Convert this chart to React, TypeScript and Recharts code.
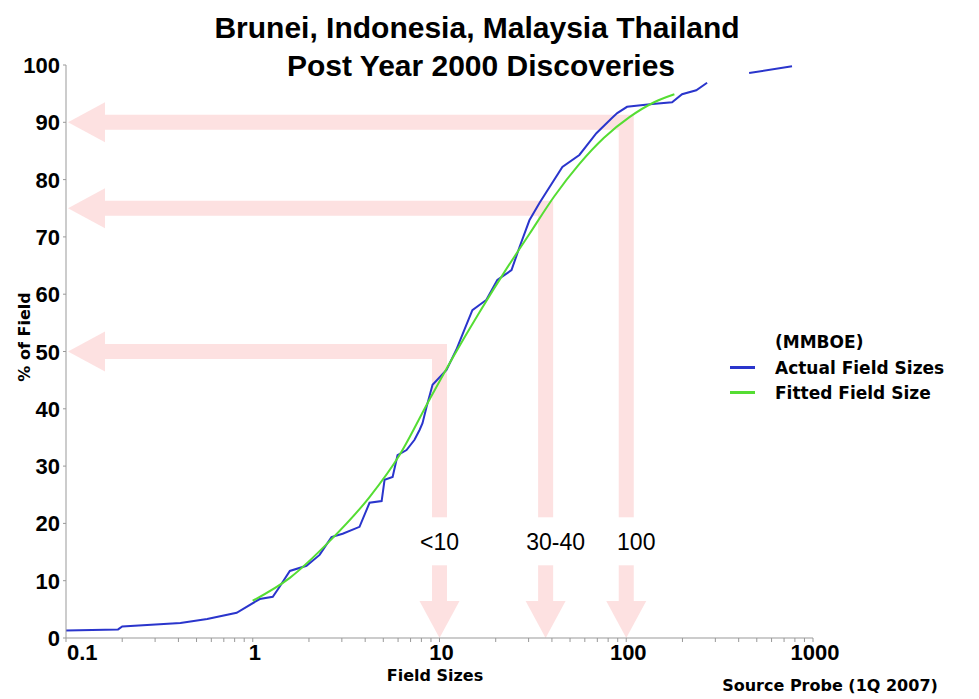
import { LineChart, Line, XAxis, YAxis, ReferenceArea, ReferenceDot, Legend } from 'recharts'

// cumulative share of fields (%) vs field size (MMBOE)
const actualX = [0.1, 0.19, 0.2, 0.41, 0.57, 0.82, 1.09, 1.28, 1.39, 1.58, 1.94, 2.28, 2.64, 3.03, 3.73, 4.22, 4.9, 5.08, 5.61, 5.96, 6.66, 7.35, 7.82, 8.11, 8.52, 9.18, 10.9, 12.3, 13.6, 15.0, 17.8, 20.4, 24.3, 26.8, 30.3, 34.3, 37.3, 45.5, 56.1, 69.2, 84.1, 89.5, 101, 138, 176, 199, 237, 271, 350, 455, 772]
const actualY = [1.3, 1.5, 2.0, 2.6, 3.3, 4.4, 6.8, 7.2, 8.9, 11.7, 12.6, 14.5, 17.6, 18.2, 19.4, 23.6, 23.9, 27.6, 28.1, 31.9, 32.8, 34.6, 36.3, 37.5, 40.3, 44.2, 46.8, 50.3, 53.8, 57.2, 59.0, 62.5, 64.2, 68.2, 72.9, 75.9, 77.8, 82.2, 84.3, 88.1, 90.8, 91.6, 92.7, 93.2, 93.5, 94.9, 95.6, 96.9, null, 98.6, 99.8]

const fittedX = [1, 1.58, 2.58, 4.22, 6.1, 8.8, 12, 16.4, 22.3, 30.3, 41.2, 56, 76, 104, 141, 181]
const fittedY = [6.5, 10.5, 16.9, 24.6, 31.9, 41.5, 49.4, 56.9, 63.9, 70.5, 77.1, 82.7, 87.3, 90.9, 93.5, 94.9]

const xTicks = [0.1, 0.2, 0.3, 0.4, 0.5, 0.6, 0.7, 0.8, 0.9, 1, 2, 3, 4, 5, 6, 7, 8, 9, 10, 20, 30, 40, 50, 60, 70, 80, 90, 100, 200, 300, 400, 500, 600, 700, 800, 900, 1000]
const xLabelValues = [0.1, 1, 10, 100, 1000]
const xLabels = ['0.1', '1', '10', '100', '1000']
const yTicks = [0, 10, 20, 30, 40, 50, 60, 70, 80, 90, 100]

const arrowSizes = [10, 37, 100]
const arrowShares = [50, 75, 90]
const arrowLabels = ['<10', '30-40', '100']
const labelLevel = 16.7

const titleLines = ['Brunei, Indonesia, Malaysia Thailand', 'Post Year 2000 Discoveries']

const actualData = actualX.map((x, i) => ({ x, y: actualY[i] }))
const fittedData = fittedX.map((x, i) => ({ x, y: fittedY[i] }))

const ARIAL = 'Liberation Sans, Arial, sans-serif'
const VERDANA = 'DejaVu Sans, Verdana, sans-serif'

const SHAFT = 15
const HEAD = 40
const HEAD_LEN = 37

// L-shaped arrow: left along the top edge, down along the right edge
function LArrow(props: any) {
  const { x, y, width, height } = props
  const left = x + 2
  const cx = x + width
  const cy = y
  const bottom = y + height
  const s = SHAFT / 2
  const h = HEAD / 2
  const pts = [
    [left, cy], [left + HEAD_LEN, cy - h], [left + HEAD_LEN, cy - s], [cx + s, cy - s],
    [cx + s, bottom - HEAD_LEN], [cx + h, bottom - HEAD_LEN], [cx, bottom], [cx - h, bottom - HEAD_LEN],
    [cx - s, bottom - HEAD_LEN], [cx - s, cy + s], [left + HEAD_LEN, cy + s], [left + HEAD_LEN, cy + h],
  ]
  return <polygon points={pts.map(p => p.join(',')).join(' ')} fill="#f8a8a8" fillOpacity={0.35} />
}

function ArrowLabel({ cx, cy, text, shift }: { cx: number; cy: number; text: string; shift: number }) {
  const w = text.length * 13 + 18
  return (
    <g>
      <rect x={cx + shift - w / 2} y={cy - 25} width={w} height={48} fill="#fff" />
      <text x={cx + shift} y={cy} dy={8} textAnchor="middle" fontFamily={ARIAL} fontSize={23} fill="#000">{text}</text>
    </g>
  )
}

function XTick(props: any) {
  const { x, y, payload } = props
  const i = xLabelValues.indexOf(payload.value)
  if (i < 0) return null
  const first = i === 0
  return (
    <text x={first ? x + 1 : x + 2} y={y} dy={16} textAnchor={first ? 'start' : 'middle'}
      fontFamily={ARIAL} fontWeight="bold" fontSize={22} fill="#000">{xLabels[i]}</text>
  )
}

function YTick(props: any) {
  const { x, y, payload } = props
  return (
    <text x={x} y={y} dy={8} textAnchor="end" fontFamily={ARIAL} fontWeight="bold" fontSize={22} fill="#000">
      {payload.value}
    </text>
  )
}

function LegendBox({ payload }: any) {
  return (
    <div style={{ fontFamily: VERDANA, fontWeight: 'bold', fontSize: 17, color: '#000' }}>
      <div style={{ marginLeft: 49, height: 25, lineHeight: '25px' }}>(MMBOE)</div>
      {(payload || []).map((e: any) => (
        <div key={e.value} style={{ display: 'flex', alignItems: 'center', height: 25 }}>
          <span style={{ display: 'inline-block', width: 25, height: 3, background: e.color, marginLeft: 4, marginRight: 20 }} />
          <span>{e.value}</span>
        </div>
      ))}
    </div>
  )
}

export default function App() {
  return (
    <div style={{ position: 'absolute', left: 0, top: 0, width: 979, height: 699, background: '#fff' }}>
      <LineChart width={979} height={699} margin={{ top: 65, right: 166, bottom: 0, left: 0 }}>
        <XAxis dataKey="x" type="number" scale="log" domain={[0.1, 1000]} ticks={xTicks} interval={0}
          allowDataOverflow height={61} stroke="#999" tickSize={4} tick={<XTick />} />
        <YAxis type="number" domain={[0, 100]} ticks={yTicks} interval={0} width={66} stroke="#999"
          tickSize={3} tickMargin={3} tick={<YTick />} />
        <Line data={actualData} dataKey="y" name="Actual Field Sizes" type="linear" stroke="#2a35cc"
          strokeWidth={2} dot={false} isAnimationActive={false} />
        <Line data={fittedData} dataKey="y" name="Fitted Field Size" type="monotone" stroke="#55dd33"
          strokeWidth={2} dot={false} isAnimationActive={false} />
        {arrowSizes.map((s, i) => (
          <ReferenceArea key={'a' + i} x1={0.1} x2={s} y1={0} y2={arrowShares[i]} shape={<LArrow />} />
        ))}
        {arrowSizes.map((s, i) => (
          <ReferenceDot key={'l' + i} x={s} y={labelLevel} r={0}
            shape={(p: any) => <ArrowLabel cx={p.cx} cy={p.cy} text={arrowLabels[i]} shift={i === 0 ? 0 : 10} />} />
        ))}
        <Legend layout="horizontal" verticalAlign="middle" align="center" content={<LegendBox />}
          wrapperStyle={{ position: 'absolute', left: 726, top: 330, width: 250, height: 80 }} />
      </LineChart>
      <svg width={979} height={699} style={{ position: 'absolute', left: 0, top: 0, pointerEvents: 'none' }}>
        <text x={477} y={38} textAnchor="middle" fontFamily={ARIAL} fontWeight="bold" fontSize={30}>{titleLines[0]}</text>
        <text x={481} y={76} textAnchor="middle" fontFamily={ARIAL} fontWeight="bold" fontSize={30}>{titleLines[1]}</text>
        <text transform="translate(30,337) rotate(-90)" textAnchor="middle" fontFamily={VERDANA} fontWeight="bold" fontSize={16}>% of Field</text>
        <text x={435} y={681} textAnchor="middle" fontFamily={VERDANA} fontWeight="bold" fontSize={16}>Field Sizes</text>
        <text x={830} y={691} textAnchor="middle" fontFamily={VERDANA} fontWeight="bold" fontSize={16}>Source Probe (1Q 2007)</text>
      </svg>
    </div>
  )
}
